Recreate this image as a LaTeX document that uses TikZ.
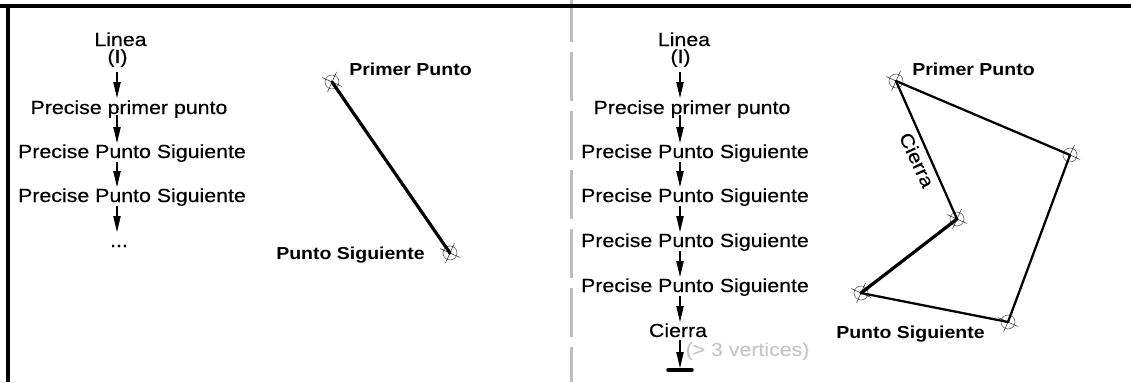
\documentclass[tikz,border=0pt]{standalone}
\usepackage{fontspec}
\setmainfont{Liberation Sans}
\newfontfamily\wideregular[FakeStretch=1.127,FakeBold=0.35]{Liberation Sans}
\newfontfamily\widebold[FakeStretch=1.125]{Liberation Sans Bold}
\usetikzlibrary{arrows.meta}
\definecolor{divgray}{RGB}{190,190,190}
\definecolor{notegray}{RGB}{200,200,200}
\tikzset{
  x=0.75pt,y=-0.75pt,
  lbl/.style={inner sep=0pt,anchor=base,font=\wideregular\fontsize{14.2}{16}\selectfont,text=black},
  blbl/.style={inner sep=0pt,anchor=base,font=\widebold\fontsize{13}{15}\selectfont,text=black},
  flow/.style={line width=0.8pt,-{Triangle[length=12pt,width=5.5pt]}},
  seg/.style={line width=2.4pt,line cap=round,black},
  seglight/.style={line width=1.7pt,line cap=round,black},
  pick/.style={circle,draw=black!70,line width=0.4pt,minimum size=10.5pt,inner sep=0pt},
  tick/.style={line width=0.4pt,black!80}
}
\newcommand{\pickmark}[2]{%
  \node[pick] (#1) at (#2) {};
  \draw[tick] ([shift={(-10,-4.5)}]#1.center) -- ([shift={(10,4.5)}]#1.center);
  \draw[tick] ([shift={(4.5,-10)}]#1.center) -- ([shift={(-4.5,10)}]#1.center);
}
\begin{document}
\begin{tikzpicture}
\useasboundingbox (0,0) rectangle (1131,382);
\fill[white] (0,0) rectangle (1131,382);
% divider
\draw[divgray,line width=2.25pt,dash pattern=on 36.75pt off 7.5pt] (571.5,-7) -- (571.5,382);
% frame
\fill[black] (0,4) rectangle (1131,7.5);
\fill[black] (5.5,4) rectangle (10,382);
% left flow
\node[lbl] (la) at (120.5,46) {Linea};
\node[lbl] (li) at (117.5,63) {(I)};
\node[lbl] (l1) at (129,114) {Precise primer punto};
\node[lbl] (l2) at (132,158) {Precise Punto Siguiente};
\node[lbl] (l3) at (132,202) {Precise Punto Siguiente};
\node[lbl] (l4) at (119,247) {...};
\coordinate (a0) at (117,72);
\coordinate (a1) at (117,98);
\coordinate (b0) at (117,115);
\coordinate (b1) at (117,143);
\coordinate (c0) at (117,162);
\coordinate (c1) at (117,187);
\coordinate (d0) at (117,206);
\coordinate (d1) at (117,232);
\draw[flow] (a0) -- (a1);
\draw[flow] (b0) -- (b1);
\draw[flow] (c0) -- (c1);
\draw[flow] (d0) -- (d1);
% left drawing
\pickmark{p1}{332,82}
\pickmark{p2}{450,253}
\draw[seg] (p1.center) -- (p2.center);
\node[blbl] (pp) at (410.5,75) {Primer Punto};
\node[blbl] (ps) at (350.5,259) {Punto Siguiente};
% right flow
\node[lbl] (ra) at (684,46) {Linea};
\node[lbl] (ri) at (680.5,63) {(I)};
\node[lbl] (r1) at (692,114) {Precise primer punto};
\node[lbl] (r2) at (695,158) {Precise Punto Siguiente};
\node[lbl] (r3) at (695,202) {Precise Punto Siguiente};
\node[lbl] (r4) at (695,247) {Precise Punto Siguiente};
\node[lbl] (r5) at (695,292) {Precise Punto Siguiente};
\node[lbl] (r6) at (678,337) {Cierra};
\node[lbl,text=notegray] (rn) at (747.5,356) {(> 3 vertices)};
\coordinate (e0) at (680,72);
\coordinate (e1) at (680,98);
\coordinate (f0) at (680,115);
\coordinate (f1) at (680,143);
\coordinate (g0) at (680,162);
\coordinate (g1) at (680,187);
\coordinate (h0) at (680,206);
\coordinate (h1) at (680,232);
\coordinate (i0) at (680,251);
\coordinate (i1) at (680,277);
\coordinate (j0) at (680,296);
\coordinate (j1) at (680,322);
\coordinate (k0) at (680,340);
\coordinate (k1) at (680,368);
\coordinate (bl) at (668,370);
\coordinate (br) at (692,370);
\foreach \s/\t in {e0/e1,f0/f1,g0/g1,h0/h1,i0/i1,j0/j1,k0/k1}{\draw[flow] (\s) -- (\t);}
\draw[line width=2.6pt,line cap=round] (bl) -- (br);
% right drawing
\pickmark{q1}{896,81}
\pickmark{q2}{1070,155}
\pickmark{q3}{1008,322}
\pickmark{q4}{861,293}
\pickmark{q5}{957,219}
\draw[seglight] (q1.center) -- (q2.center);
\draw[seglight] (q2.center) -- (q3.center);
\draw[seglight] (q3.center) -- (q4.center);
\draw[seg] (q4.center) -- (q5.center);
\draw[seglight] (q5.center) -- (q1.center);
\node[blbl] (qp) at (973.5,75) {Primer Punto};
\node[blbl] (qs) at (910.5,338) {Punto Siguiente};
\node[inner sep=0pt,font=\wideregular\fontsize{14.2}{16}\selectfont,rotate=-65] (qc) at (917,160) {Cierra};
\end{tikzpicture}
\end{document}
